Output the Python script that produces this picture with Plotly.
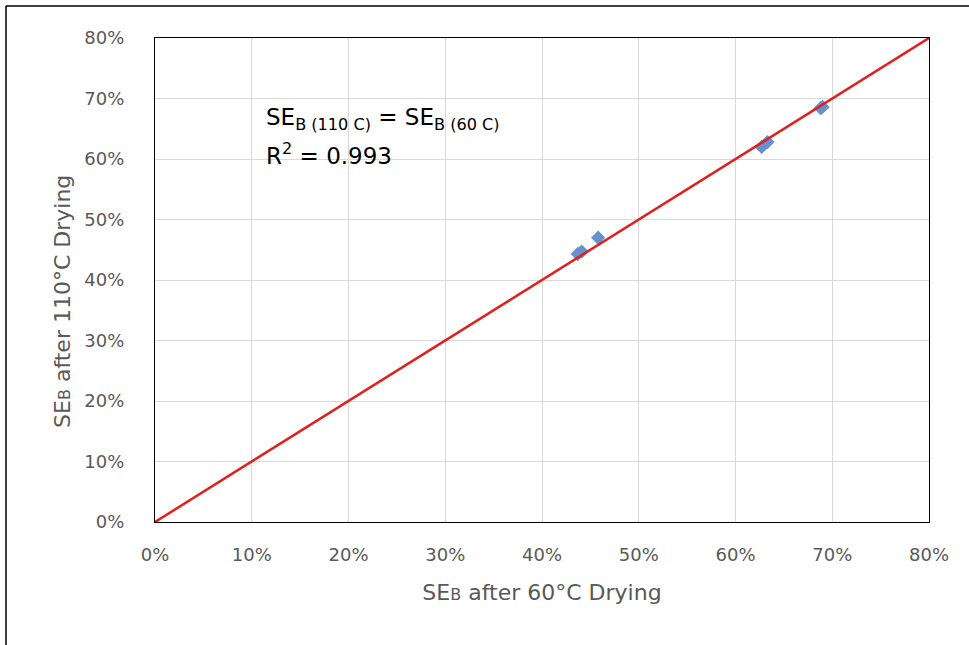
import plotly.graph_objects as go

# Data
x_60 = [0.437, 0.441, 0.458, 0.627, 0.633, 0.688, 0.690]
y_110 = [0.443, 0.447, 0.470, 0.620, 0.628, 0.684, 0.686]
line_x = [0.0, 0.8]
line_y = [0.0, 0.8]
tick_vals = [0.0, 0.1, 0.2, 0.3, 0.4, 0.5, 0.6, 0.7, 0.8]
tick_text = ["0%", "10%", "20%", "30%", "40%", "50%", "60%", "70%", "80%"]

FONT = "'DejaVu Sans', sans-serif"
GRAY = "#595959"
SMALLB = "SE<span style='font-size:16px'>B</span>"

fig = go.Figure()
fig.add_trace(go.Scatter(
    x=x_60, y=y_110, mode="markers",
    marker=dict(symbol="diamond", size=11, color="#6592cf"),
    showlegend=False,
))
fig.add_trace(go.Scatter(
    x=line_x, y=line_y, mode="lines",
    line=dict(color="#e0201e", width=2.5),
    showlegend=False,
))

axis_common = dict(
    range=[0, 0.8], tickvals=tick_vals, ticktext=tick_text,
    showgrid=True, gridcolor="#d9d9d9", gridwidth=1,
    zeroline=False, showline=True, linecolor="black", linewidth=1.2, mirror=True,
    ticks="", tickfont=dict(family=FONT, size=18, color=GRAY),
)

fig.update_layout(
    width=969, height=645,
    margin=dict(l=155, r=40, t=38, b=123),
    paper_bgcolor="white", plot_bgcolor="white",
    font=dict(family=FONT),
    xaxis=dict(**axis_common, ticklabelstandoff=16,
               title=dict(text=SMALLB + " after 60°C Drying",
                          font=dict(family=FONT, size=22, color=GRAY), standoff=20)),
    yaxis=dict(**axis_common, ticklabelstandoff=26),
    annotations=[
        dict(x=-0.1202, y=0.4566, xref="paper", yref="paper",
             xanchor="center", yanchor="middle", textangle=-90, showarrow=False,
             text=SMALLB + " after 110°C Drying",
             font=dict(family=FONT, size=22, color=GRAY)),
        dict(x=0.113, y=0.666, xref="x", yref="y", xanchor="left", yanchor="middle",
             align="left", showarrow=False,
             text="SE<sub>B (110 C)</sub> = SE<sub>B (60 C)</sub>",
             font=dict(family=FONT, size=23, color="black")),
        dict(x=0.113, y=0.608, xref="x", yref="y", xanchor="left", yanchor="middle",
             align="left", showarrow=False,
             text="R<sup>2</sup> = 0.993",
             font=dict(family=FONT, size=23, color="black")),
    ],
    shapes=[
        dict(type="line", xref="paper", yref="paper",
             x0=-0.1925, x1=-0.1925, y0=1.066, y1=-0.3, line=dict(color="black", width=1.5)),
        dict(type="line", xref="paper", yref="paper",
             x0=-0.1925, x1=1.1, y0=1.066, y1=1.066, line=dict(color="black", width=1.5)),
    ],
)

fig.write_html("out.html")
